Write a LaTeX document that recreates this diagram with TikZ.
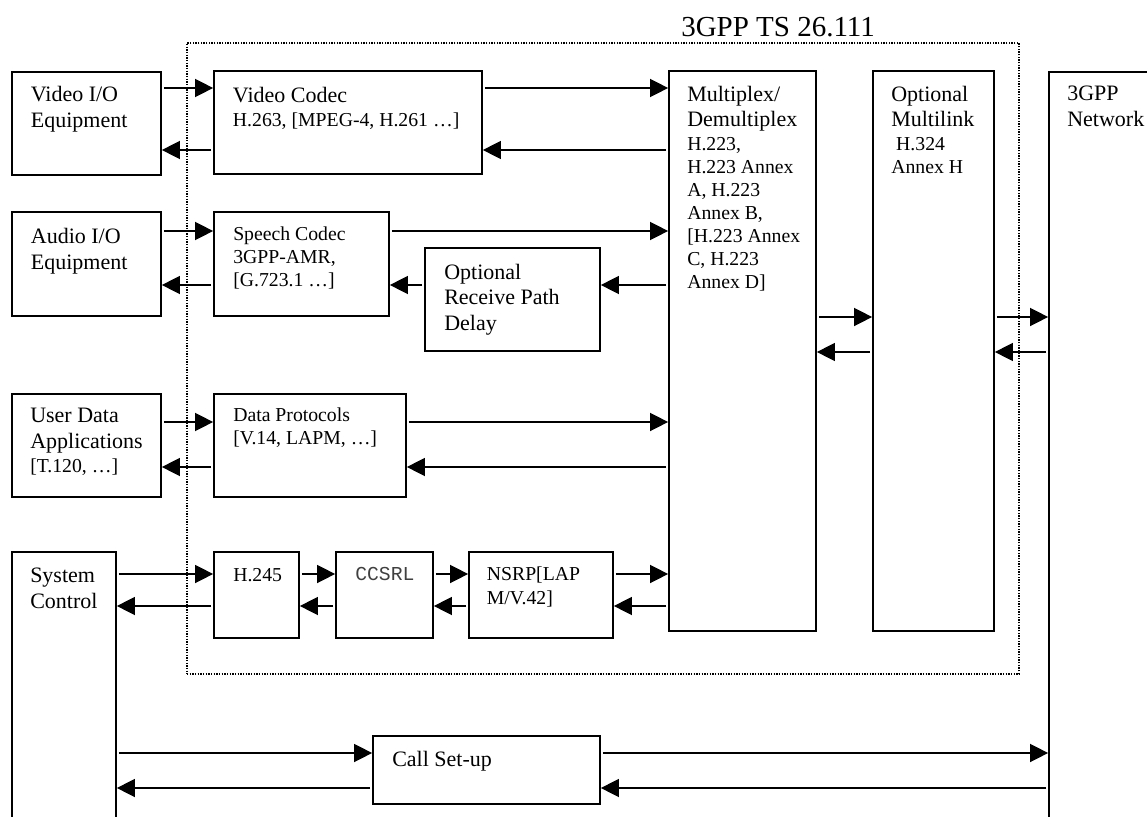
\documentclass[tikz,border=0pt]{standalone}
\usepackage{fontspec}
\setmainfont{Liberation Serif}
\setmonofont{Liberation Mono}
\usetikzlibrary{arrows.meta,fit}
\newcommand\fbig{\fontsize{16.5}{19.3}\selectfont}
\newcommand\fsm{\fontsize{14.8}{17.2}\selectfont}
\begin{document}
\begin{tikzpicture}[x=0.75pt,y=-0.75pt,
  box/.style={draw, line width=1.3pt, inner sep=0pt, fit={#1}},
  txt/.style={anchor=north west, inner sep=0pt, align=left, font=\fbig},
  stxt/.style={anchor=north west, inner sep=0pt, align=left, font=\fsm},
  arr/.style={line width=1.1pt, shorten <=1.5pt, -{Triangle[length=13.5pt,width=13.5pt]}},
  dotbox/.style={draw, line width=1.2pt, dash pattern=on 1.1pt off 0.9pt, inner sep=0pt, fit={#1}}]
\useasboundingbox (0,0) rectangle (1147,817);
\clip (0,0) rectangle (1147,817);
% boxes
\node[box={(12,72)(161,175)}] (vio) {};
\node[txt] (viot) at (30.6,86) {Video I/O\\Equipment};
\node[box={(214,71)(482,174)}] (vc) {};
\node[txt] (vct) at (232.7,86.5) {Video Codec\\[-1.3pt]{\fsm H.263, [MPEG-4, H.261 …]}};
\node[box={(12,212)(161,316)}] (aio) {};
\node[txt] (aiot) at (30.6,228) {Audio I/O\\Equipment};
\node[box={(214,212)(389,316)}] (sc) {};
\node[stxt] (sct) at (233,227) {Speech Codec\\3GPP-AMR,\\{}[G.723.1 …]};
\node[box={(425,248)(600,351)}] (rpd) {};
\node[txt] (rpdt) at (444,263.5) {Optional\\Receive Path\\Delay};
\node[box={(669,71)(816,631)}] (mux) {};
\node[stxt] (muxt) at (687,86) {{\fbig Multiplex/}\\[1.6pt]{\fbig Demultiplex}\\[0.8pt]H.223,\\H.223 Annex\\A, H.223\\Annex B,\\{}[H.223 Annex\\C, H.223\\Annex D]};
\node[box={(873,71)(994,631)}] (ml) {};
\node[stxt] (mlt) at (891,86) {{\fbig Optional}\\[1.6pt]{\fbig Multilink}\\[0.8pt]\ H.324\\Annex H};
\node[box={(1049,72)(1200,900)}] (net) {};
\node[txt] (nett) at (1067,86) {3GPP\\Network};
\node[box={(12,394)(161,497)}] (uda) {};
\node[txt] (udat) at (30,408) {User Data\\Applications\\[-1.3pt]{\fsm [T.120, …]}};
\node[box={(214,394)(406,497)}] (dp) {};
\node[stxt] (dpt) at (233,408) {Data Protocols\\{}[V.14, LAPM, …]};
\node[box={(12,552)(116,900)}] (sys) {};
\node[txt] (syst) at (30,568) {System\\Control};
\node[box={(214,552)(299,638)}] (h245) {};
\node[stxt] (h245t) at (233,568) {H.245};
\node[box={(336,552)(433,638)}] (ccsrl) {};
\node[anchor=north west, inner sep=0pt, text=black!75, font=\ttfamily\fsm] (ccsrlt) at (355,567) {CCSRL};
\node[box={(469,552)(613,638)}] (nsrp) {};
\node[stxt] (nsrpt) at (486.6,567) {NSRP[LAP\\[0.6pt]M/V.42]};
\node[box={(373,736)(600,804)}] (call) {};
\node[txt] (callt) at (392,751) {Call Set-up};
\node[dotbox={(187,43)(1019,674)}] (ts) {};
\node[anchor=north west, inner sep=0pt, font=\fontsize{21.75}{26}\selectfont] (title) at (681,17) {3GPP TS 26.111};
% connectors
\draw[arr] (vio.east|-0,88) -- (vc.west|-0,88);
\draw[arr] (vc.west|-0,150) -- (vio.east|-0,150);
\draw[arr] (vc.east|-0,88) -- (mux.west|-0,88);
\draw[arr] (mux.west|-0,150) -- (vc.east|-0,150);
\draw[arr] (aio.east|-0,231) -- (sc.west|-0,231);
\draw[arr] (sc.west|-0,285) -- (aio.east|-0,285);
\draw[arr] (sc.east|-0,231) -- (mux.west|-0,231);
\draw[arr] (mux.west|-0,285) -- (rpd.east|-0,285);
\draw[arr] (rpd.west|-0,285) -- (sc.east|-0,285);
\draw[arr] (uda.east|-0,422) -- (dp.west|-0,422);
\draw[arr] (dp.west|-0,467) -- (uda.east|-0,467);
\draw[arr] (dp.east|-0,422) -- (mux.west|-0,422);
\draw[arr] (mux.west|-0,467) -- (dp.east|-0,467);
\draw[arr] (sys.east|-0,574) -- (h245.west|-0,574);
\draw[arr] (h245.west|-0,606) -- (sys.east|-0,606);
\draw[arr] (h245.east|-0,574) -- (ccsrl.west|-0,574);
\draw[arr] (ccsrl.west|-0,606) -- (h245.east|-0,606);
\draw[arr] (ccsrl.east|-0,574) -- (nsrp.west|-0,574);
\draw[arr] (nsrp.west|-0,606) -- (ccsrl.east|-0,606);
\draw[arr] (nsrp.east|-0,574) -- (mux.west|-0,574);
\draw[arr] (mux.west|-0,606) -- (nsrp.east|-0,606);
\draw[arr] (mux.east|-0,317) -- (ml.west|-0,317);
\draw[arr] (ml.west|-0,352) -- (mux.east|-0,352);
\draw[arr] (ml.east|-0,317) -- (net.west|-0,317);
\draw[arr] (net.west|-0,352) -- (ml.east|-0,352);
\draw[arr] (sys.east|-0,753) -- (call.west|-0,753);
\draw[arr] (call.west|-0,788) -- (sys.east|-0,788);
\draw[arr] (call.east|-0,753) -- (net.west|-0,753);
\draw[arr] (net.west|-0,788) -- (call.east|-0,788);
\end{tikzpicture}
\end{document}
